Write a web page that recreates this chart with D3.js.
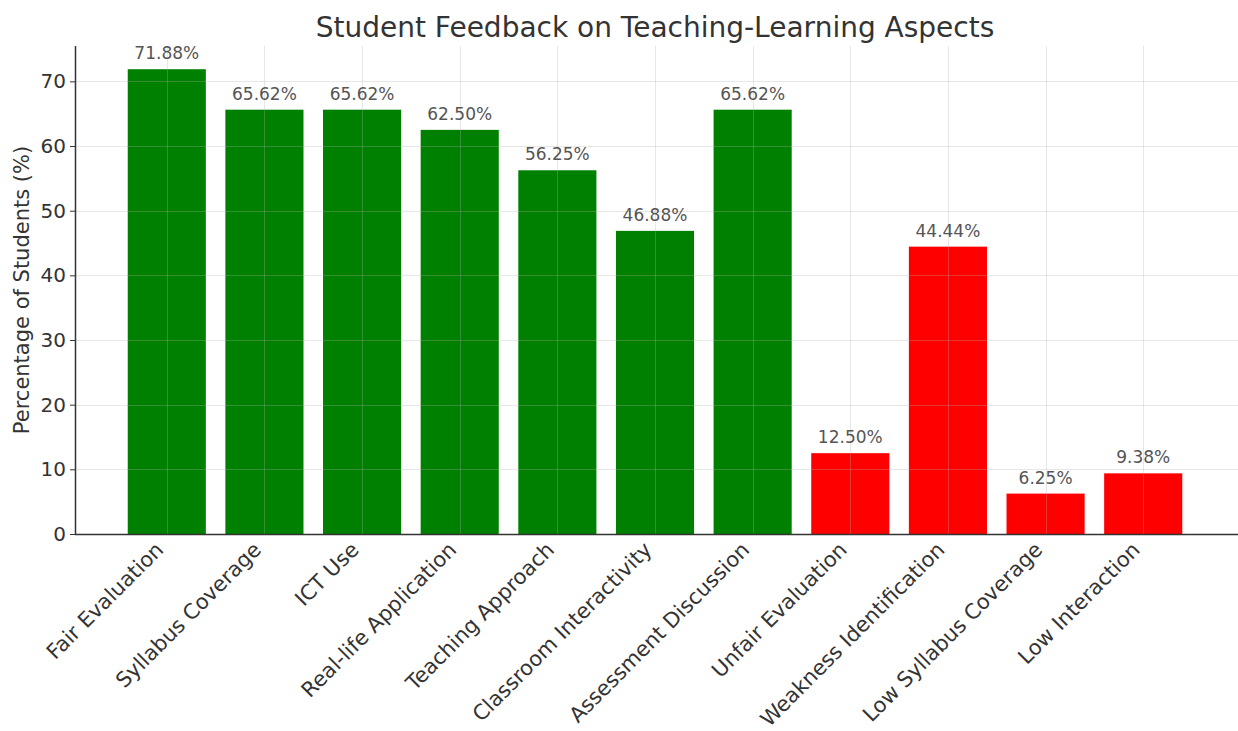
<!DOCTYPE html>
<html><head><meta charset="utf-8">
<script src="https://cdn.jsdelivr.net/npm/d3@7"></script>
<style>body{margin:0;background:#fff}svg{display:block}text{font-family:"DejaVu Sans",sans-serif}</style>
</head><body><svg id="c" width="1238" height="731"></svg>
<script>
const categories = ["Fair Evaluation","Syllabus Coverage","ICT Use","Real-life Application","Teaching Approach","Classroom Interactivity","Assessment Discussion","Unfair Evaluation","Weakness Identification","Low Syllabus Coverage","Low Interaction"];
const values = [71.88,65.62,65.62,62.50,56.25,46.88,65.62,12.50,44.44,6.25,9.38];
const barColors = ["green","green","green","green","green","green","green","red","red","red","red"];
const yTicks = [0,10,20,30,40,50,60,70];
const title = "Student Feedback on Teaching-Learning Aspects";
const yLabel = "Percentage of Students (%)";

const svg = d3.select("#c");
const L = 75, R = 1235, T = 46, B = 534;
const n = categories.length;
const x = d3.scaleLinear().domain([-0.94, n - 1 + 0.94]).range([L, R]);
const y = d3.scaleLinear().domain([0, 75.47]).range([B, T]);
const bw = x(0.4) - x(-0.4);

// bars
svg.append("g").selectAll("rect").data(values).join("rect")
  .attr("x", (d,i) => x(i) - bw/2).attr("width", bw)
  .attr("y", d => y(d)).attr("height", d => B - y(d))
  .attr("fill", (d,i) => barColors[i]);

// grid (drawn above bars, translucent)
const grid = svg.append("g").attr("stroke", "#b0b0b0").attr("stroke-opacity", 0.3).attr("stroke-width", 1);
grid.selectAll("line.h").data(yTicks.slice(1)).join("line").attr("class","h")
  .attr("x1", L).attr("x2", 1238).attr("y1", d => Math.round(y(d))+0.5).attr("y2", d => Math.round(y(d))+0.5);
grid.selectAll("line.v").data(d3.range(n)).join("line").attr("class","v")
  .attr("y1", T).attr("y2", B).attr("x1", d => Math.round(x(d))+0.5).attr("x2", d => Math.round(x(d))+0.5);

// y axis
const yAxis = d3.axisLeft(y).tickValues(yTicks).tickSize(5).tickPadding(4).tickFormat(d3.format("d"));
const gy = svg.append("g").attr("transform", `translate(${L},0)`).call(yAxis);
gy.select(".domain").attr("d", `M0.5,${T}V${B}`).attr("stroke", "#333").attr("stroke-width", 1.5);
gy.selectAll(".tick line").attr("stroke", "#333");
gy.selectAll(".tick text").attr("fill", "#333").style("font-size", "20px").style("font-family", "DejaVu Sans");

// x axis
const gx = svg.append("g").attr("transform", `translate(0,${B})`);
gx.append("line").attr("x1", L).attr("x2", 1238).attr("y1", 0.5).attr("y2", 0.5).attr("stroke", "#333").attr("stroke-width", 1.5);
gx.selectAll("text").data(categories).join("text")
  .attr("transform", (d,i) => `translate(${x(i) - 2},${17}) rotate(-45)`)
  .attr("text-anchor", "end").attr("fill", "#333").style("font-size", "21px")
  .text(d => d);

// value labels
svg.append("g").selectAll("text").data(values).join("text")
  .attr("x", (d,i) => x(i)).attr("y", d => y(d) - 10)
  .attr("text-anchor", "middle").attr("fill", "#555").style("font-size", "17px")
  .text(d => d.toFixed(2) + "%");

// title
svg.append("text").attr("x", (L+R)/2).attr("y", 37).attr("text-anchor", "middle")
  .attr("fill", "#333").style("font-size", "28px").text(title);

// y label
svg.append("text").attr("transform", `translate(29,${(T+B)/2}) rotate(-90)`)
  .attr("text-anchor", "middle").attr("fill", "#333").style("font-size", "21px").text(yLabel);
</script></body></html>
